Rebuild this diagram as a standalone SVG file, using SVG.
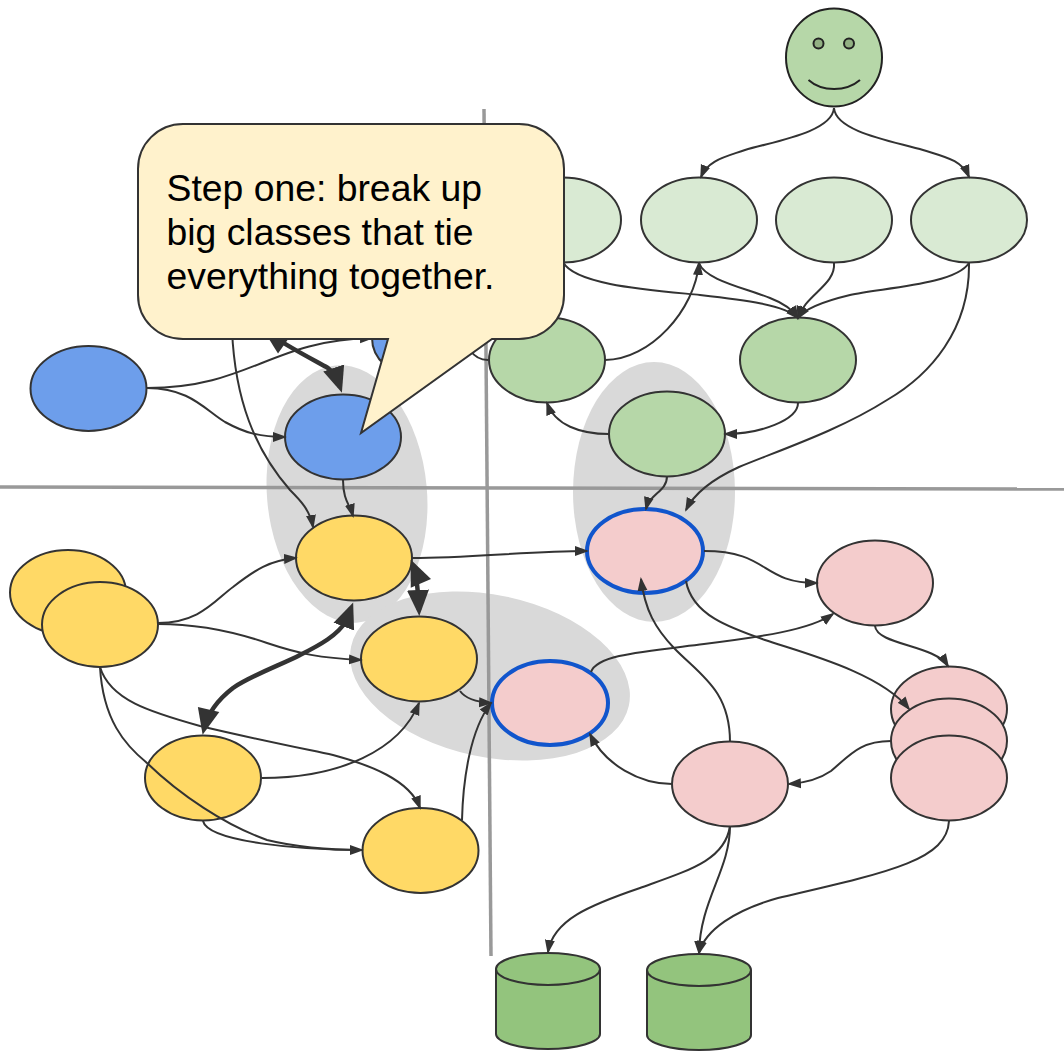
<svg xmlns="http://www.w3.org/2000/svg" width="1064" height="1052" viewBox="0 0 1064 1052">
<style>
.n{stroke:#333;stroke-width:2}
.b{fill:#6d9eeb}.lg{fill:#d9ead3}.g{fill:#b6d7a8}.y{fill:#ffd966}.p{fill:#f4cccc}
.hl{stroke:#1155cc;stroke-width:4}
.h{fill:#d9d9d9}
.d{stroke:#999;stroke-width:3.5;fill:none}
.c{fill:none;stroke:#333;stroke-width:2}
.t{fill:none;stroke:#333;stroke-width:4.5}
.db{fill:#93c47d;stroke:#333;stroke-width:2}
text{font-family:"Liberation Sans",Arial,sans-serif;font-size:37.33px;fill:#000}
</style>
<defs>
<marker id="a" markerUnits="userSpaceOnUse" markerWidth="15" markerHeight="12" refX="12" refY="6" orient="auto"><path d="M0 1L14 6L0 11Z" fill="#333"/></marker>
<marker id="A" markerUnits="userSpaceOnUse" markerWidth="28" markerHeight="24" refX="20" refY="12" orient="auto"><path d="M0 1L26 12L0 23Z" fill="#333"/></marker>
<marker id="S" markerUnits="userSpaceOnUse" markerWidth="28" markerHeight="24" refX="6" refY="12" orient="auto"><path d="M26 1L0 12L26 23Z" fill="#333"/></marker>
</defs>
<g id="highlights">
<ellipse class="h" cx="347" cy="494" rx="80" ry="129" transform="rotate(-5 347 494)"/>
<ellipse class="h" cx="654" cy="492" rx="81" ry="130"/>
<ellipse class="h" cx="490" cy="676" rx="142" ry="81" transform="rotate(12 490 676)"/>
</g>
<g id="dividers">
<path class="d" d="M484 109L491 956"/>
<path class="d" d="M0 487L1064 489"/>
</g>
<g id="nodes">
<g id="blue-hidden"><ellipse class="n b" cx="415" cy="338" rx="43" ry="38"/></g>
<g id="blue-left"><ellipse class="n b" cx="88.500" cy="388.500" rx="58" ry="42.500"/></g>
<g id="blue-center"><ellipse class="n b" cx="343" cy="437" rx="58" ry="42.500"/></g>
<g id="lg-1"><ellipse class="n lg" cx="563" cy="220" rx="58" ry="42.500"/></g>
<g id="lg-2"><ellipse class="n lg" cx="699" cy="220" rx="58" ry="42.500"/></g>
<g id="lg-3"><ellipse class="n lg" cx="834" cy="220" rx="58" ry="42.500"/></g>
<g id="lg-4"><ellipse class="n lg" cx="969" cy="220" rx="58" ry="42.500"/></g>
<g id="g-1"><ellipse class="n g" cx="547" cy="360" rx="58" ry="42.500"/></g>
<g id="g-2"><ellipse class="n g" cx="798" cy="360" rx="58" ry="42.500"/></g>
<g id="g-3"><ellipse class="n g" cx="667" cy="434" rx="58" ry="42.500"/></g>
<g id="y-back"><ellipse class="n y" cx="68" cy="592.500" rx="58" ry="42.500"/></g>
<g id="y-front"><ellipse class="n y" cx="100" cy="624.500" rx="58" ry="42.500"/></g>
<g id="y-top"><ellipse class="n y" cx="354" cy="558" rx="58" ry="42.500"/></g>
<g id="y-mid"><ellipse class="n y" cx="419" cy="659" rx="58" ry="42.500"/></g>
<g id="y-low"><ellipse class="n y" cx="203" cy="778" rx="58" ry="42.500"/></g>
<g id="y-bottom"><ellipse class="n y" cx="420.500" cy="850.500" rx="58" ry="42.500"/></g>
<g id="p-hl-1"><ellipse class="hl p" cx="645" cy="551" rx="58" ry="42"/></g>
<g id="p-hl-2"><ellipse class="hl p" cx="550" cy="703" rx="58" ry="42"/></g>
<g id="p-right"><ellipse class="n p" cx="875" cy="583" rx="58" ry="42.500"/></g>
<g id="p-stack-1"><ellipse class="n p" cx="949" cy="709" rx="58" ry="42.500"/></g>
<g id="p-stack-2"><ellipse class="n p" cx="949" cy="741" rx="58" ry="42.500"/></g>
<g id="p-stack-3"><ellipse class="n p" cx="949" cy="778" rx="58" ry="42.500"/></g>
<g id="p-mid"><ellipse class="n p" cx="730" cy="784" rx="58" ry="42.500"/></g>
<g id="db-1"><path class="db" d="M496 969V1034C496 1042 519 1049 548 1049S600 1042 600 1034V969"/><ellipse class="db" cx="548" cy="969" rx="52" ry="16"/></g>
<g id="db-2"><path class="db" d="M647 970V1035C647 1043 670 1050 699 1050S751 1043 751 1035V970"/><ellipse class="db" cx="699" cy="970" rx="52" ry="16"/></g>
<g id="face">
<ellipse cx="834" cy="57.500" rx="48" ry="49" fill="#b6d7a8" stroke="#222" stroke-width="2"/>
<circle cx="818.500" cy="43.500" r="5" fill="#92b083" stroke="#222" stroke-width="2"/>
<circle cx="849" cy="43.500" r="5" fill="#92b083" stroke="#222" stroke-width="2"/>
<path d="M808.500 80C822 92 846 92 860 80" fill="none" stroke="#222" stroke-width="2"/>
</g>
</g>
<g id="connectors">
<path class="c" marker-end="url(#a)" d="M834 108C832 133 770 142 745 150C725 157 708 160 701 177"/>
<path class="c" marker-end="url(#a)" d="M834 108C836 133 898 142 923 150C945 157 962 160 969 177"/>
<path class="c" marker-end="url(#a)" d="M563 262C575 285 650 290 700 295C745 300 785 305 798 318"/>
<path class="c" marker-end="url(#a)" d="M699 263C705 280 745 288 770 298C783 303 793 310 798 318"/>
<path class="c" marker-end="url(#a)" d="M834 263C836 285 805 295 798 318"/>
<path class="c" marker-end="url(#a)" d="M969 263C955 285 880 288 850 295C825 301 805 308 798 318"/>
<path class="c" marker-end="url(#a)" d="M605 360C650 360 695 310 699 263"/>
<path class="c" marker-end="url(#a)" d="M609 434C580 434 555 425 547 403"/>
<path class="c" marker-end="url(#a)" d="M798 403C798 420 760 434 725 434"/>
<path class="c" d="M488 360C480 360 474 356 470 350"/>
<path class="c" marker-end="url(#a)" d="M969 263C970 330 930 375 887 400C840 430 780 450 739 467C715 478 695 492 686 510"/>
<path class="c" marker-end="url(#a)" d="M667 476C667 492 650 493 646 509"/>
<path class="c" marker-end="url(#a)" d="M147 388C250 388 270 340 372 338"/>
<path class="c" marker-end="url(#a)" d="M147 388C190 388 205 410 225 422C245 433 260 437 285 437"/>
<path class="c" marker-end="url(#a)" d="M232 330C235 400 255 450 290 490C300 500 310 510 313 527"/>
<path class="c" marker-end="url(#a)" d="M343 480C343 500 350 505 353 516"/>
<path class="t" marker-start="url(#S)" marker-end="url(#A)" d="M268 333C285 345 310 358 328 368C334 372 337 378 340 387"/>
<path class="c" marker-end="url(#a)" d="M158 623C200 623 215 600 233 587C255 570 270 560 296 558"/>
<path class="c" marker-end="url(#a)" d="M158 624C200 624 235 632 267 643C300 654 320 658 361 660"/>
<path class="t" marker-start="url(#S)" marker-end="url(#A)" d="M204 729C208 712 220 698 233 688C250 676 283 664 300 655C320 645 338 635 346 621L351 608"/>
<path class="t" marker-start="url(#S)" marker-end="url(#A)" d="M413 565C416 572 418 590 419 610"/>
<path class="c" d="M100 667C103 720 125 745 147 763C180 795 225 825 267 840C300 848 330 850 362 850"/>
<path class="c" marker-end="url(#a)" d="M100 667C110 700 150 712 200 726C250 738 300 748 333 755C370 765 410 780 420 808"/>
<path class="c" marker-end="url(#a)" d="M203 821C208 842 300 850 362 850"/>
<path class="c" marker-end="url(#a)" d="M262 778C340 778 400 750 419 703"/>
<path class="c" marker-end="url(#a)" d="M460 691C465 698 475 702 491 703"/>
<path class="c" marker-end="url(#a)" d="M462 820C463 780 470 730 491 703"/>
<path class="c" marker-end="url(#a)" d="M412 558C470 558 530 551 587 551"/>
<path class="c" marker-end="url(#a)" d="M704 551C770 551 760 583 817 583"/>
<path class="c" marker-end="url(#a)" d="M591 672C597 655 640 652 704 644C760 637 810 630 833 614"/>
<path class="c" marker-end="url(#a)" d="M875 626C877 645 935 645 948 666"/>
<path class="c" marker-end="url(#a)" d="M686 581C692 615 730 628 765 640C800 652 880 672 909 709"/>
<path class="c" marker-end="url(#a)" d="M730 742C730 690 700 675 674 648C655 628 645 610 641 579"/>
<path class="c" marker-end="url(#a)" d="M672 784C640 784 605 765 590 734"/>
<path class="c" marker-end="url(#a)" d="M891 741C860 741 850 755 831 771C818 780 805 783 789 784"/>
<path class="c" marker-end="url(#a)" d="M730 826C725 860 690 870 640 888C590 905 553 920 548 952"/>
<path class="c" marker-end="url(#a)" d="M730 826C730 870 700 900 699 953"/>
<path class="c" marker-end="url(#a)" d="M949 821C947 860 890 872 778 898C735 910 705 930 699 953"/>
</g>
<g id="callout">
<path d="M183 124H519C544 124 564 144 564 169V295C564 320 544 339 519 339H492L361 433L388 339H183C158 339 138 320 138 295V169C138 144 158 124 183 124Z" fill="#fff2cc" stroke="#333" stroke-width="2"/>
<text x="166.500" y="201">Step one: break up</text>
<text x="166.500" y="245">big classes that tie</text>
<text x="166.500" y="289">everything together.</text>
</g>
</svg>
